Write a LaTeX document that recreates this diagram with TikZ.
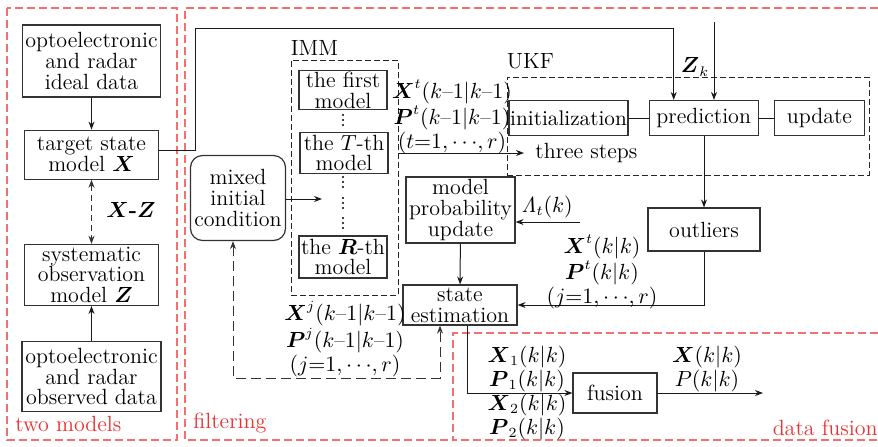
\documentclass[tikz,border=0pt]{standalone}
\usepackage{amsmath}
\usetikzlibrary{positioning,arrows.meta}

\definecolor{tagred}{RGB}{236,48,48}
\definecolor{framered}{RGB}{242,112,112}

\begin{document}
\begin{tikzpicture}[
    x=0.5pt, y=-0.5pt,
    font=\fontsize{10.5pt}{10.5pt}\selectfont,
    % ---- styles -------------------------------------------------
    box/.style={draw=black!80, line width=0.6pt, align=center, inner sep=1pt,
        font=\fontsize{11pt}{10.4pt}\selectfont},
    grp/.style={draw=black!85, dash pattern=on 3pt off 1.5pt, line width=0.5pt, inner sep=0pt},
    flow/.style={-{Stealth[length=4pt,width=3pt]}, line width=0.5pt, draw=black!90},
    link/.style={line width=0.5pt, draw=black!90},
    both/.style={{Stealth[length=4pt,width=3pt]}-{Stealth[length=4pt,width=3pt]},
        line width=0.5pt, draw=black!80},
    region/.style={draw=framered, dash pattern=on 4pt off 2pt, line width=0.6pt},
    tag/.style={text=tagred, inner sep=0pt, font=\fontsize{11pt}{11pt}\selectfont},
    lbl/.style={align=center, inner sep=0pt, font=\fontsize{10.5pt}{10.6pt}\selectfont},
]
\useasboundingbox (0,0) rectangle (878,446);

% =================== regions ==================================
\draw[region] (7,8) rectangle (177,440);
\draw[region] (878,8) -- (185,8) -- (185,440) -- (453,440);
\draw[region] (878,333) -- (453,333) -- (453,440) -- (878,440);

\node[tag, anchor=base west] (tagmodels) at (15,431) {two models};
\node[tag, anchor=base west] (tagfilter) at (193,428) {filtering};
\node[tag, anchor=base east] (tagfusion) at (878,435) {data fusion};

% =================== two models ===============================
\node[box, minimum width=69pt, minimum height=36pt] (ideal) at (91.5,61)
    {optoelectronic\\ and radar\\ ideal data};
\node[box, minimum width=67pt, minimum height=24.5pt, below=16pt of ideal] (target)
    {target state\\ model $\boldsymbol{X}$};
\node[box, minimum width=67pt, minimum height=30.5pt, below=32pt of target] (sysobs)
    {systematic\\ observation\\ model $\boldsymbol{Z}$};
\node[box, minimum width=69.5pt, minimum height=35pt, below=17.5pt of sysobs] (observed)
    {optoelectronic\\ and radar\\ observed data};

\draw[flow] (ideal) -- (target);
\draw[both, dash pattern=on 3pt off 2pt] (target) -- (sysobs);
\draw[flow] (observed) -- (sysobs);
\node[lbl, font=\fontsize{11pt}{11pt}\selectfont] (xzlbl) at (131,210)
    {$\boldsymbol{X}$\textbf{-}$\boldsymbol{Z}$};

% =================== IMM ======================================
\node[grp, minimum width=53.5pt, minimum height=117.5pt] (immbox) at (344.5,177.5) {};
\node[lbl, font=\fontsize{11pt}{11pt}\selectfont, anchor=south west, yshift=2pt] (immlbl)
    at (immbox.north west) {IMM};

\node[box, inner sep=0.5pt, minimum width=44pt, minimum height=19.5pt] (first) at (343,90)
    {the first\\ model};
\node[box, inner sep=0.5pt, minimum width=44pt, minimum height=20.5pt] (tth) at (344,153)
    {the $T$-th\\ model};
\node[box, inner sep=0.5pt, minimum width=44pt, minimum height=21pt] (rth) at (343,257)
    {the $\boldsymbol{R}$-th\\ model};
% vertical dots between the models
\foreach \y in {120,182,203,223}
    \foreach \d in {-5,0,5}
        \fill (343,\y+\d) circle (0.55pt);

\node[box, rounded corners=6pt, minimum width=47.5pt, minimum height=42.5pt] (mixed) at (238,198)
    {mixed\\ initial\\ condition};
\coordinate (mixin) at (322,199);
\draw[flow] (mixed.east |- mixin) -- (mixin);

% =================== UKF ======================================
\node[grp, minimum width=181pt, minimum height=49pt] (ukfbox) at (688,126) {};
\node[lbl, font=\fontsize{11pt}{11pt}\selectfont, anchor=south west, yshift=3.5pt] (ukflbl)
    at (ukfbox.north west) {UKF};

\node[box, font=\fontsize{10.6pt}{10.6pt}\selectfont, inner xsep=0.3pt,
    minimum width=59.5pt, minimum height=17.5pt] (init) at (568.5,118) {initialization};
\node[box, minimum width=54.5pt, minimum height=17.5pt, right=10pt of init] (pred) {prediction};
\node[box, minimum width=45pt, minimum height=17.5pt, right=7.5pt of pred] (upd) {update};
\draw[link] (init) -- (pred);
\draw[link] (pred) -- (upd);

\coordinate (stepsin) at (524,153);
\node[lbl, font=\fontsize{11pt}{11pt}\selectfont, anchor=west, right=5.5pt of stepsin] (steps)
    {three steps};
\draw[flow] (immbox.east |- stepsin) -- (stepsin);
\node[lbl] (xtlbl) at (452,117)
    {$\boldsymbol{X}^{t}(k\text{--}1|k\text{--}1)$\\
     $\boldsymbol{P}^{t}(k\text{--}1|k\text{--}1)$\\
     $(t{=}1,{\cdots},r)$};

% X into prediction, Z_k into prediction
\coordinate (bend) at (195,28);
\draw[flow] ([yshift=2pt]target.east) -| (bend) -| ([xshift=-15pt]pred.north);
\coordinate (zin) at (714,22);
\draw[flow] (zin) -- (zin |- pred.north);
\node[lbl] (zlbl) at (695,67) {$\boldsymbol{Z}_k$};

% =================== outliers / estimation ====================
\node[box, minimum width=56pt, minimum height=21.5pt] (outliers) at (704,229.5) {outliers};
\draw[flow] (pred.south -| outliers) -- (outliers.north);

\node[box, minimum width=54.5pt, minimum height=33pt] (mpu) at (460.5,210)
    {model\\ probability\\ update};
\coordinate (lamin) at (580,222);
\draw[flow] (lamin) -- (lamin -| mpu.east);
\node[lbl] (lamlbl) at (547,207) {$\mathit{\Lambda}_t(k)$};

\node[box, minimum width=57pt, minimum height=20pt] (stateest) at (460,305)
    {state\\ estimation};
\draw[flow] (mpu) -- (stateest);
\draw[flow] (outliers.south) |- (stateest.east);
\node[lbl] (xtklbl) at (602,272)
    {$\boldsymbol{X}^{t}(k|k)$\\ $\boldsymbol{P}^{t}(k|k)$\\ $(j{=}1,{\cdots},r)$};

% feedback to the mixing step
\coordinate (fbL) at (233,378);
\draw[both, dash pattern=on 5pt off 2.5pt] (mixed.south -| fbL) -- (fbL) -| ([xshift=-10pt]stateest.south);
\node[lbl] (xjlbl) at (345,339)
    {$\boldsymbol{X}^{j}(k\text{--}1|k\text{--}1)$\\
     $\boldsymbol{P}^{j}(k\text{--}1|k\text{--}1)$\\
     $(j{=}1,{\cdots},r)$};

% =================== data fusion ==============================
\node[box, minimum width=42pt, minimum height=20pt] (fusion) at (615,393) {fusion};
\draw[flow] ([xshift=3.5pt]stateest.south) |- (fusion.west);
\coordinate (fout) at (763,393);
\draw[flow] (fusion.east) -- (fout);
\node[lbl] (fusinlbl) at (527,393)
    {$\boldsymbol{X}_1(k|k)$\\ $\boldsymbol{P}_1(k|k)$\\ $\boldsymbol{X}_2(k|k)$\\ $\boldsymbol{P}_2(k|k)$};
\node[lbl] (fusoutlbl) at (707,369) {$\boldsymbol{X}(k|k)$\\ $P(k|k)$};

\end{tikzpicture}
\end{document}
